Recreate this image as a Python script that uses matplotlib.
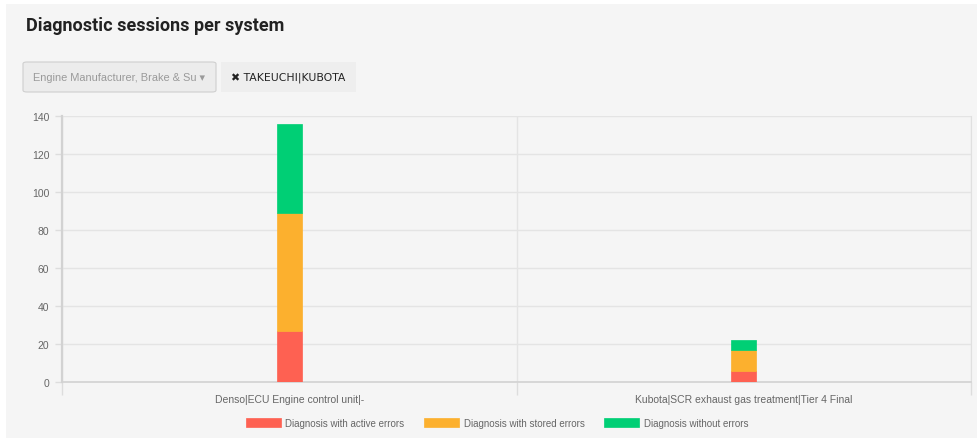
import matplotlib
matplotlib.use("Agg")
import matplotlib.pyplot as plt
from matplotlib.patches import Rectangle, FancyBboxPatch
import numpy as np

W, H = 977, 439

categories = ["Denso|ECU Engine control unit|-",
              "Kubota|SCR exhaust gas treatment|Tier 4 Final"]
series_names = ["Diagnosis with active errors",
                "Diagnosis with stored errors",
                "Diagnosis without errors"]
active_errors = [27, 6]
stored_errors = [62, 11]
without_errors = [47, 5]
series_colors = ["#fe6152", "#fcb02e", "#00cf75"]
y_ticks = [0, 20, 40, 60, 80, 100, 120, 140]

title = "Diagnostic sessions per system"
dropdown_label = "Engine Manufacturer, Brake & Su"
filter_tag = "TAKEUCHI|KUBOTA"

plt.rcParams['font.family'] = ['Liberation Sans', 'DejaVu Sans']

fig = plt.figure(figsize=(W / 100, H / 100), dpi=100)
fig.patch.set_facecolor("white")


def fx(x):
    return x / W


def fy(y):
    return 1 - y / H


# panel background
fig.patches.append(Rectangle((fx(6), 0), fx(W - 6), fy(5), transform=fig.transFigure,
                             facecolor="#f5f5f5", edgecolor="none", zorder=-5))

# title
fig.text(fx(26), fy(26), title, fontsize=13, fontweight="bold", color="#222222",
         family=['Roboto', 'DejaVu Sans'],
         va="center", ha="left")

# dropdown button
fig.patches.append(FancyBboxPatch((fx(23), fy(93)), fx(193), 30 / H,
                                  boxstyle="round,pad=0,rounding_size=0.004",
                                  transform=fig.transFigure, facecolor="#ececec",
                                  edgecolor="#cfcfcf", linewidth=0.8, zorder=-1))
fig.text(fx(33), fy(78), dropdown_label + " \u25be", fontsize=7.9, color="#9a9a9a",
         va="center", ha="left")

# filter tag
fig.patches.append(Rectangle((fx(221), fy(93)), fx(135), 30 / H, transform=fig.transFigure,
                             facecolor="#eeeeee", edgecolor="none", zorder=-1))
fig.text(fx(231), fy(78), "\u2716 " + filter_tag, fontsize=7.8, color="#222222",
         family=['DejaVu Sans'], va="center", ha="left")

# chart axes
ax = fig.add_axes([fx(62), 1 - 383 / H, fx(971 - 62), 266 / H])
ax.set_zorder(2)
ax.set_facecolor("none")
x = np.arange(len(categories))
bw = 0.055
bottom = np.zeros(len(categories))
for vals, col, name in zip([active_errors, stored_errors, without_errors], series_colors, series_names):
    ax.bar(x, vals, width=bw, bottom=bottom, color=col, edgecolor=col, linewidth=0.5,
           label=name, zorder=3)
    bottom += np.array(vals)

ax.set_xlim(-0.5, len(categories) - 0.5)
ax.set_ylim(0, 140)
ax.set_yticks(y_ticks)
ax.set_yticklabels([str(v) for v in y_ticks])
ax.set_xticks(x)
ax.set_xticklabels(categories)
ax.set_xticks(np.arange(-0.5, len(categories), 1.0), minor=True)
ax.tick_params(axis="x", which="major", length=0, pad=9, labelsize=7.5, labelcolor="#666666")
ax.tick_params(axis="x", which="minor", length=9, width=1, color="#dddddd")
ax.tick_params(axis="y", which="major", length=5, width=1, color="#dddddd", pad=4,
               labelsize=7.5, labelcolor="#666666")
ax.grid(axis="y", color="#e4e4e4", linewidth=1, zorder=0)
ax.grid(axis="x", which="minor", color="#e4e4e4", linewidth=1, zorder=0)
ax.spines["left"].set_color("#d2d2d2")
ax.spines["left"].set_linewidth(1.6)
ax.spines["bottom"].set_color("#d2d2d2")
ax.spines["bottom"].set_linewidth(1.2)
ax.spines["right"].set_color("#e0e0e0")
ax.spines["top"].set_visible(False)

leg = fig.legend(loc="center", bbox_to_anchor=(fx(497), fy(424)), ncol=3, frameon=False,
                 fontsize=7.0, handlelength=3.6, handleheight=1.0, handletextpad=0.5,
                 columnspacing=2.0, labelcolor="#666666")

fig.savefig("out.png", dpi=100, facecolor=fig.get_facecolor())
